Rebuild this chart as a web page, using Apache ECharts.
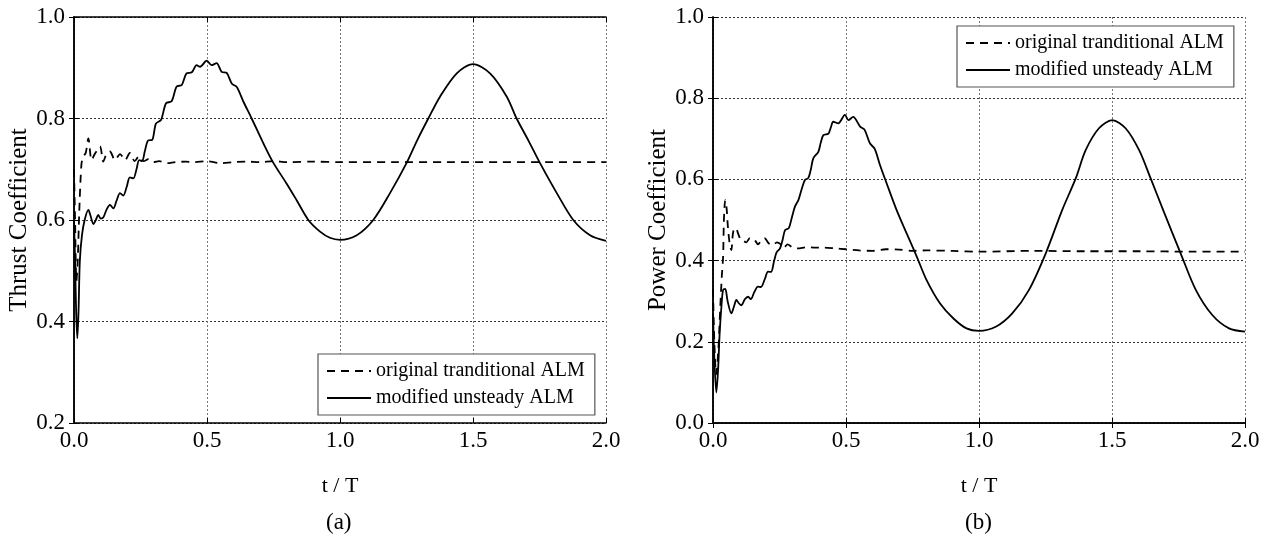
<!DOCTYPE html>
<html>
<head>
<meta charset="utf-8">
<script src="https://cdn.jsdelivr.net/npm/echarts@6/dist/echarts.min.js"></script>
<style>html,body{margin:0;padding:0;background:#fff}#c{width:1274px;height:540px}</style>
</head>
<body>
<div id="c"></div>
<script>
// ---- Data ----
const seriesNames = ['original tranditional ALM', 'modified unsteady ALM'];
const xTicks = [0, 0.5, 1.0, 1.5, 2.0];

// (a) Thrust coefficient
const thrustOrigT = [0,0.004,0.009,0.014,0.02,0.028,0.035,0.044,0.054,0.066,0.076,0.084,0.098,0.11,0.122,0.135,0.154,0.173,0.192,0.21,0.228,0.245,0.262,0.28,0.30,0.32,0.35,0.38,0.42,0.45,0.5,0.55,0.6,0.65,0.7,0.75,0.8,0.9,1.0,1.2,1.4,1.6,1.8,2.0];
const thrustOrigV = [0.70,0.60,0.48,0.52,0.62,0.71,0.725,0.732,0.761,0.718,0.728,0.735,0.745,0.715,0.73,0.735,0.718,0.73,0.718,0.732,0.716,0.726,0.716,0.72,0.714,0.716,0.712,0.714,0.715,0.714,0.716,0.712,0.714,0.715,0.714,0.716,0.714,0.715,0.714,0.714,0.714,0.714,0.714,0.714];

const thrustModT = [0,0.004,0.008,0.0125,0.017,0.022,0.03,0.04,0.054,0.064,0.073,0.082,0.091,0.10,0.11,0.122,0.135,0.148,0.16,0.173,0.185,0.198,0.21,0.223,0.235,0.245,0.256,0.266,0.279,0.294,0.308,0.327,0.346,0.367,0.386,0.405,0.423,0.443,0.461,0.474,0.499,0.517,0.536,0.555,0.574,0.593,0.612,0.637,0.668,0.712,0.749,0.799,0.837,0.881,0.925,0.962,1.0,1.063,1.125,1.188,1.25,1.291,1.332,1.376,1.439,1.5,1.564,1.627,1.664,1.709,1.752,1.815,1.877,1.94,2.0];
const thrustModV = [0.60,0.52,0.42,0.367,0.42,0.52,0.57,0.60,0.62,0.605,0.592,0.60,0.61,0.603,0.605,0.62,0.63,0.623,0.638,0.653,0.648,0.665,0.684,0.682,0.70,0.718,0.716,0.735,0.757,0.758,0.79,0.797,0.83,0.834,0.863,0.866,0.889,0.891,0.905,0.902,0.914,0.905,0.909,0.892,0.89,0.869,0.862,0.833,0.80,0.751,0.713,0.672,0.639,0.60,0.577,0.565,0.561,0.57,0.60,0.653,0.712,0.758,0.80,0.843,0.889,0.907,0.889,0.843,0.80,0.756,0.712,0.653,0.60,0.57,0.559];

// (b) Power coefficient
const powerOrigT = [0,0.005,0.012,0.02,0.027,0.033,0.038,0.041,0.046,0.051,0.056,0.063,0.069,0.075,0.082,0.088,0.097,0.106,0.115,0.125,0.138,0.15,0.16,0.169,0.182,0.194,0.21,0.225,0.24,0.255,0.265,0.28,0.30,0.32,0.35,0.38,0.42,0.46,0.5,0.55,0.6,0.65,0.7,0.75,0.8,0.9,1.0,1.2,1.4,1.6,1.8,2.0];
const powerOrigV = [0.33,0.20,0.12,0.18,0.28,0.36,0.41,0.50,0.549,0.53,0.483,0.44,0.426,0.467,0.48,0.478,0.462,0.45,0.448,0.445,0.455,0.455,0.448,0.44,0.45,0.455,0.442,0.438,0.445,0.44,0.43,0.44,0.432,0.43,0.433,0.432,0.432,0.43,0.428,0.425,0.424,0.428,0.427,0.424,0.425,0.424,0.422,0.424,0.423,0.423,0.422,0.422];

const powerModT = [0,0.005,0.0125,0.019,0.025,0.032,0.038,0.046,0.055,0.069,0.078,0.088,0.097,0.106,0.12,0.132,0.142,0.155,0.169,0.18,0.195,0.207,0.218,0.23,0.239,0.252,0.262,0.271,0.285,0.296,0.308,0.321,0.333,0.346,0.358,0.368,0.377,0.396,0.405,0.415,0.434,0.443,0.452,0.471,0.496,0.509,0.527,0.553,0.57,0.59,0.608,0.628,0.653,0.69,0.728,0.766,0.803,0.853,0.903,0.953,1.0,1.063,1.125,1.188,1.251,1.313,1.364,1.401,1.451,1.501,1.551,1.602,1.645,1.695,1.758,1.815,1.877,1.94,2.0];
const powerModV = [0.27,0.16,0.075,0.13,0.221,0.29,0.328,0.33,0.30,0.27,0.285,0.303,0.295,0.29,0.305,0.311,0.305,0.322,0.336,0.335,0.355,0.373,0.372,0.40,0.42,0.43,0.452,0.475,0.48,0.505,0.533,0.549,0.575,0.599,0.603,0.625,0.652,0.668,0.69,0.709,0.713,0.728,0.742,0.738,0.759,0.746,0.754,0.73,0.722,0.689,0.675,0.635,0.59,0.525,0.467,0.41,0.352,0.295,0.258,0.233,0.227,0.237,0.27,0.328,0.418,0.525,0.603,0.672,0.726,0.746,0.726,0.672,0.603,0.52,0.418,0.328,0.266,0.233,0.225];

const zip = (t, v) => t.map((x, i) => [x, v[i]]);

const FONT = '"Liberation Serif","Times New Roman",serif';
const grids = [
  {left: 74, top: 17, width: 532, height: 406},
  {left: 713, top: 17, width: 532, height: 406}
];

function xAx(gi, pos, main) {
  return {
    type: 'value', gridIndex: gi, position: pos, min: 0, max: 2, interval: 0.5,
    name: main ? 't / T' : '', nameLocation: 'middle', nameGap: 52,
    nameTextStyle: {fontFamily: FONT, fontSize: 22, color: '#000'},
    axisLine: {show: true, lineStyle: {color: '#000', width: 1.5}},
    axisTick: {show: true, inside: true, length: 5, lineStyle: {color: '#000'}},
    axisLabel: {show: main, fontFamily: FONT, fontSize: 23, color: '#000', margin: 6,
      formatter: v => v.toFixed(1)},
    splitLine: {show: main, lineStyle: {color: '#777', type: [2, 2], width: 1}}
  };
}
function yAx(gi, pos, main, min, name) {
  return {
    type: 'value', gridIndex: gi, position: pos, min: min, max: 1.0, interval: 0.2,
    name: main ? name : '', nameLocation: 'middle', nameGap: 41,
    nameTextStyle: {fontFamily: FONT, fontSize: 25, color: '#000'},
    axisLine: {show: true, lineStyle: {color: '#000', width: 1.5}},
    axisTick: {show: true, inside: true, length: 5, lineStyle: {color: '#000'}},
    axisLabel: {show: main, fontFamily: FONT, fontSize: 23, color: '#000', margin: 9,
      formatter: v => v.toFixed(1)},
    splitLine: {show: main, lineStyle: {color: '#333', type: [2, 2], width: 1}}
  };
}

const dashStyle = {color: '#000', width: 1.8, type: [8, 6]};
const solidStyle = {color: '#000', width: 1.8, type: 'solid'};

function mkSeries(name, data, xi, yi, style) {
  return {name: name, type: 'line', xAxisIndex: xi, yAxisIndex: yi, data: data,
    showSymbol: false, symbol: 'none', smooth: 0.3, lineStyle: style,
    itemStyle: {color: '#000'}, animation: false, z: 5};
}

function mkLegend(left, top) {
  return {
    orient: 'vertical', left: left, top: top, backgroundColor: '#fff',
    borderColor: '#555', borderWidth: 1.2, borderRadius: 0,
    padding: [7, 10, 7, 8], itemGap: 7, itemWidth: 44, itemHeight: 14,
    itemStyle: {opacity: 0},
    textStyle: {fontFamily: FONT, fontSize: 20, color: '#000'},
    data: seriesNames.slice()
  };
}

const chart = echarts.init(document.getElementById('c'), null, {renderer: 'canvas'});
chart.setOption({
  animation: false,
  backgroundColor: '#fff',
  grid: grids,
  xAxis: [xAx(0, 'bottom', true), xAx(1, 'bottom', true), xAx(0, 'top', false), xAx(1, 'top', false)],
  yAxis: [yAx(0, 'left', true, 0.2, 'Thrust Coefficient'), yAx(0, 'right', false, 0.2, ''),
          yAx(1, 'left', true, 0.0, 'Power Coefficient'), yAx(1, 'right', false, 0.0, '')],
  legend: [mkLegend(318, 354), mkLegend(957, 26)],
  series: [
    mkSeries(seriesNames[0], zip(thrustOrigT, thrustOrigV), 0, 0, dashStyle),
    mkSeries(seriesNames[1], zip(thrustModT, thrustModV), 0, 0, solidStyle),
    mkSeries(seriesNames[0], zip(powerOrigT, powerOrigV), 1, 2, dashStyle),
    mkSeries(seriesNames[1], zip(powerModT, powerModV), 1, 2, solidStyle)
  ],
  graphic: [
    {type: 'text', left: 326, top: 511, style: {text: '(a)', font: '23px ' + FONT, fill: '#000'}},
    {type: 'text', left: 965, top: 511, style: {text: '(b)', font: '23px ' + FONT, fill: '#000'}}
  ]
});
</script>
</body>
</html>
